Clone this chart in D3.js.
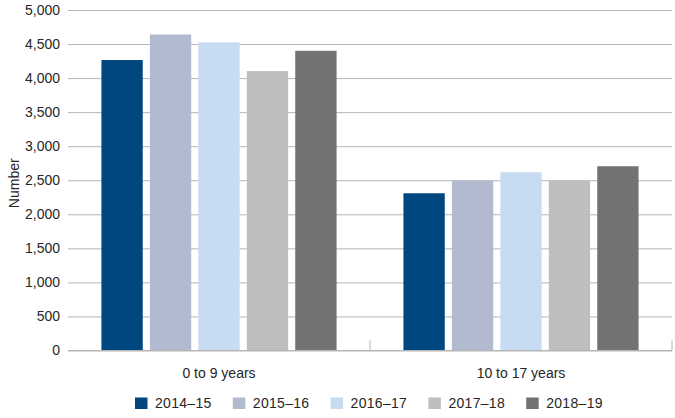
<!DOCTYPE html>
<html>
<head>
<meta charset="utf-8">
<script src="https://cdn.jsdelivr.net/npm/d3@7"></script>
<style>
  body { margin: 0; background: #fff; }
  svg text { font-family: "Liberation Sans", Arial, sans-serif; fill: #262626; }
  .grid line { stroke: #b5b5b5; }
  .grid path { display: none; }
</style>
</head>
<body>
<svg id="chart" width="675" height="418"></svg>
<script>
// categories and series
var groups = ["0 to 9 years", "10 to 17 years"];
var years = ["2014\u201315", "2015\u201316", "2016\u201317", "2017\u201318", "2018\u201319"];
var colors = ["#00467f", "#b1bace", "#c7dcf3", "#bebebe", "#737173"];
var ageUnder10 = [4265, 4641, 4524, 4103, 4401];
var age10to17 = [2309, 2495, 2618, 2495, 2706];
var yTicks = [0, 500, 1000, 1500, 2000, 2500, 3000, 3500, 4000, 4500, 5000];

var seriesByGroup = [ageUnder10, age10to17];

// dimensions
var margin = {top: 10, right: 3, bottom: 67.5, left: 68},
    width = 675 - margin.left - margin.right,
    height = 418 - margin.top - margin.bottom;

var svg = d3.select("#chart")
  .append("g")
  .attr("transform", "translate(" + margin.left + "," + margin.top + ")");

// scales
var x0 = d3.scaleBand().domain(groups).range([0, width]).padding(0);
var x1 = d3.scaleBand().domain(years).range([0, x0.bandwidth()])
  .paddingInner(0.147).paddingOuter(0.69);
var y = d3.scaleLinear().domain([0, 5000]).range([height, 0]);
var color = d3.scaleOrdinal().domain(years).range(colors);

// y gridlines
svg.append("g")
  .attr("class", "grid")
  .call(d3.axisLeft(y).tickValues(yTicks).tickSize(-width).tickFormat(""));

// y labels
svg.append("g")
  .selectAll("text")
  .data(yTicks)
  .enter().append("text")
  .attr("x", -8)
  .attr("y", function(d) { return y(d); })
  .attr("dy", "0.35em")
  .attr("text-anchor", "end")
  .style("font-size", "14px")
  .text(function(d) { return d3.format(",")(d); });

// bars
var g = svg.selectAll(".group")
  .data(groups)
  .enter().append("g")
  .attr("class", "group")
  .attr("transform", function(d) { return "translate(" + x0(d) + ",0)"; });

g.selectAll("rect")
  .data(function(d, i) {
    return years.map(function(yr, j) { return {year: yr, value: seriesByGroup[i][j]}; });
  })
  .enter().append("rect")
  .attr("x", function(d) { return x1(d.year); })
  .attr("y", function(d) { return y(d.value); })
  .attr("width", x1.bandwidth())
  .attr("height", function(d) { return height - y(d.value); })
  .attr("fill", function(d) { return color(d.year); });

// x axis with category dividers
var xAxis = svg.append("g").attr("transform", "translate(0," + height + ")");
xAxis.append("line")
  .attr("x1", 0).attr("x2", width)
  .attr("stroke", "#b5b5b5");
xAxis.selectAll(".divider")
  .data(groups)
  .enter().append("line")
  .attr("class", "divider")
  .attr("x1", function(d) { return x0(d) + x0.bandwidth(); })
  .attr("x2", function(d) { return x0(d) + x0.bandwidth(); })
  .attr("y1", 0).attr("y2", -10)
  .attr("stroke", "#b5b5b5");
xAxis.selectAll(".label")
  .data(groups)
  .enter().append("text")
  .attr("x", function(d) { return x0(d) + x0.bandwidth() / 2; })
  .attr("y", 27)
  .attr("text-anchor", "middle")
  .style("font-size", "14px")
  .text(function(d) { return d; });

// y axis title
svg.append("text")
  .attr("transform", "translate(" + (-54) + "," + (height / 2 + 3) + ") rotate(-90)")
  .attr("text-anchor", "middle")
  .attr("dy", "0.35em")
  .style("font-size", "14px")
  .text("Number");

// legend
var legend = d3.select("#chart").append("g")
  .attr("transform", "translate(135,397.5)");
var item = legend.selectAll("g")
  .data(years)
  .enter().append("g")
  .attr("transform", function(d, i) { return "translate(" + (i * 97.8) + ",0)"; });
item.append("rect")
  .attr("width", 12.5).attr("height", 11.5)
  .attr("fill", function(d) { return color(d); });
item.append("text")
  .attr("x", 20)
  .attr("y", 6)
  .attr("dy", "0.35em")
  .style("font-size", "14px")
  .style("letter-spacing", "0.3px")
  .text(function(d) { return d; });
</script>
</body>
</html>
